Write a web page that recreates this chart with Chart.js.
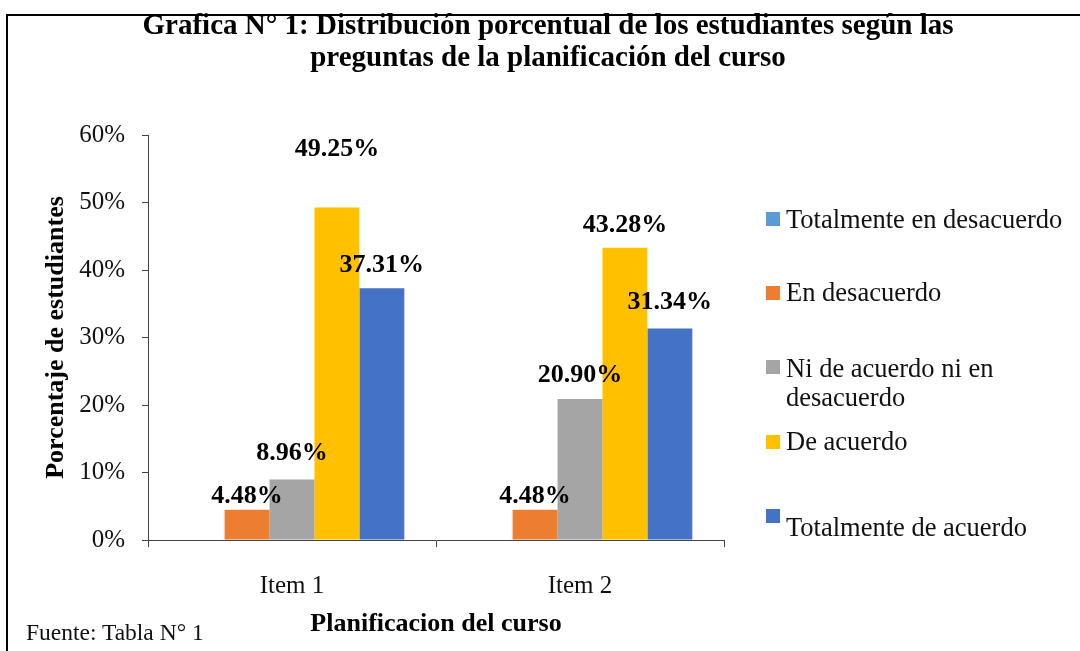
<!DOCTYPE html>
<html>
<head>
<meta charset="utf-8">
<script src="https://cdn.jsdelivr.net/npm/chart.js@4/dist/chart.umd.min.js"></script>
<style>
  html, body { margin: 0; padding: 0; background: #fff; }
  #wrap { position: relative; width: 1080px; height: 651px; overflow: hidden; font-family: "Liberation Serif", "Times New Roman", serif; }
  #frame { position: absolute; left: 6px; top: 14px; width: 1100px; height: 700px; border-top: 2px solid #000; border-left: 2px solid #000; }
  #chart { position: absolute; left: 0; top: 0; }
  #title { position: absolute; left: 0; top: 8px; width: 1096px; text-align: center; font-weight: bold; font-size: 29px; line-height: 32px; color: #000; }
  .leg { position: absolute; left: 766px; width: 312px; font-size: 26.5px; line-height: 29px; color: #111; padding-left: 20px; box-sizing: border-box; }
  .leg i { position: absolute; left: 0; width: 14px; height: 14px; }
  #fuente { position: absolute; left: 26px; top: 619px; font-size: 23.5px; line-height: 26px; color: #111; }
</style>
</head>
<body>
<div id="wrap">
  <div id="frame"></div>
  <canvas id="chart" width="1080" height="651"></canvas>
  <div id="title">Grafica N° 1: Distribución porcentual de los estudiantes según las<br>preguntas de la planificación del curso</div>
  <div id="fuente">Fuente: Tabla N° 1</div>
</div>
<script>
const categories = ['Item 1', 'Item 2'];
const seriesNames = ['Totalmente en desacuerdo', 'En desacuerdo', 'Ni de acuerdo ni en desacuerdo', 'De acuerdo', 'Totalmente de acuerdo'];
const totDesacuerdo = [0, 0];
const enDesacuerdo = [4.48, 4.48];
const niNi = [8.96, 20.90];
const deAcuerdo = [49.25, 43.28];
const totAcuerdo = [37.31, 31.34];
const colors = ['#5B9BD5', '#ED7D31', '#A5A5A5', '#FFC000', '#4472C4'];

const serif = '"Liberation Serif", "Times New Roman", serif';

// how far above the bar top each value label sits (Word moved some by hand)
const labelLift = [[0, 0], [13, 13], [26, 24], [58, 23], [23, 26]];
// legend item tops and swatch offsets, as laid out in the original
const legendTop = [205, 278, 354, 427, 513];
const swatchTop = [7, 8, 6, 8, -4];

const valueLabels = {
  id: 'valueLabels',
  afterDatasetsDraw(chart) {
    const ctx = chart.ctx;
    ctx.save();
    ctx.font = 'bold 26px ' + serif;
    ctx.fillStyle = '#000';
    ctx.textAlign = 'center';
    ctx.textBaseline = 'middle';
    chart.data.datasets.forEach((ds, i) => {
      chart.getDatasetMeta(i).data.forEach((bar, j) => {
        const v = ds.data[j];
        if (!v) return;
        ctx.fillText(v.toFixed(2) + '%', bar.x, bar.y - labelLift[i][j]);
      });
    });
    ctx.restore();
  }
};

const allSeries = [totDesacuerdo, enDesacuerdo, niNi, deAcuerdo, totAcuerdo];

const chart = new Chart(document.getElementById('chart'), {
  type: 'bar',
  data: {
    labels: categories,
    datasets: allSeries.map((vals, i) => ({
      label: seriesNames[i],
      data: vals,
      backgroundColor: colors[i],
      borderWidth: 0,
      categoryPercentage: 0.78,
      barPercentage: 1
    }))
  },
  options: {
    responsive: false,
    devicePixelRatio: 1,
    animation: false,
    layout: { padding: { left: 0, right: 356, top: 135, bottom: 0 } },
    plugins: {
      legend: { display: false },
      tooltip: { enabled: false },
      title: { display: false }
    },
    scales: {
      x: {
        ticks: { color: '#111', font: { family: serif, size: 25 }, padding: 24 },
        grid: { drawOnChartArea: false, tickLength: 7, color: '#444', offset: true },
        border: { display: true, color: '#444', width: 1 },
        title: {
          display: true, text: 'Planificacion del curso', color: '#000',
          font: { family: serif, size: 26, weight: 'bold' },
          padding: { top: 0, bottom: 11 }
        },
        afterFit(scale) { scale.height = 111; }
      },
      y: {
        min: 0, max: 60,
        ticks: { stepSize: 10, callback: v => v + '%', color: '#111', font: { family: serif, size: 25 }, padding: 17 },
        grid: { drawOnChartArea: false, tickLength: 6, color: '#444' },
        border: { display: true, color: '#444', width: 1 },
        title: {
          display: true, text: 'Porcentaje de estudiantes', color: '#000',
          font: { family: serif, size: 26, weight: 'bold' },
          padding: { top: 41, bottom: 0 }
        },
        afterFit(scale) { scale.width = 148; }
      }
    }
  },
  plugins: [valueLabels]
});

// legend on the right, built from the datasets
const wrap = document.getElementById('wrap');
chart.data.datasets.forEach((ds, i) => {
  const d = document.createElement('div');
  d.className = 'leg';
  d.style.top = legendTop[i] + 'px';
  const sw = document.createElement('i');
  sw.style.background = ds.backgroundColor;
  sw.style.top = swatchTop[i] + 'px';
  d.appendChild(sw);
  d.appendChild(document.createTextNode(ds.label));
  wrap.appendChild(d);
});
</script>
</body>
</html>
